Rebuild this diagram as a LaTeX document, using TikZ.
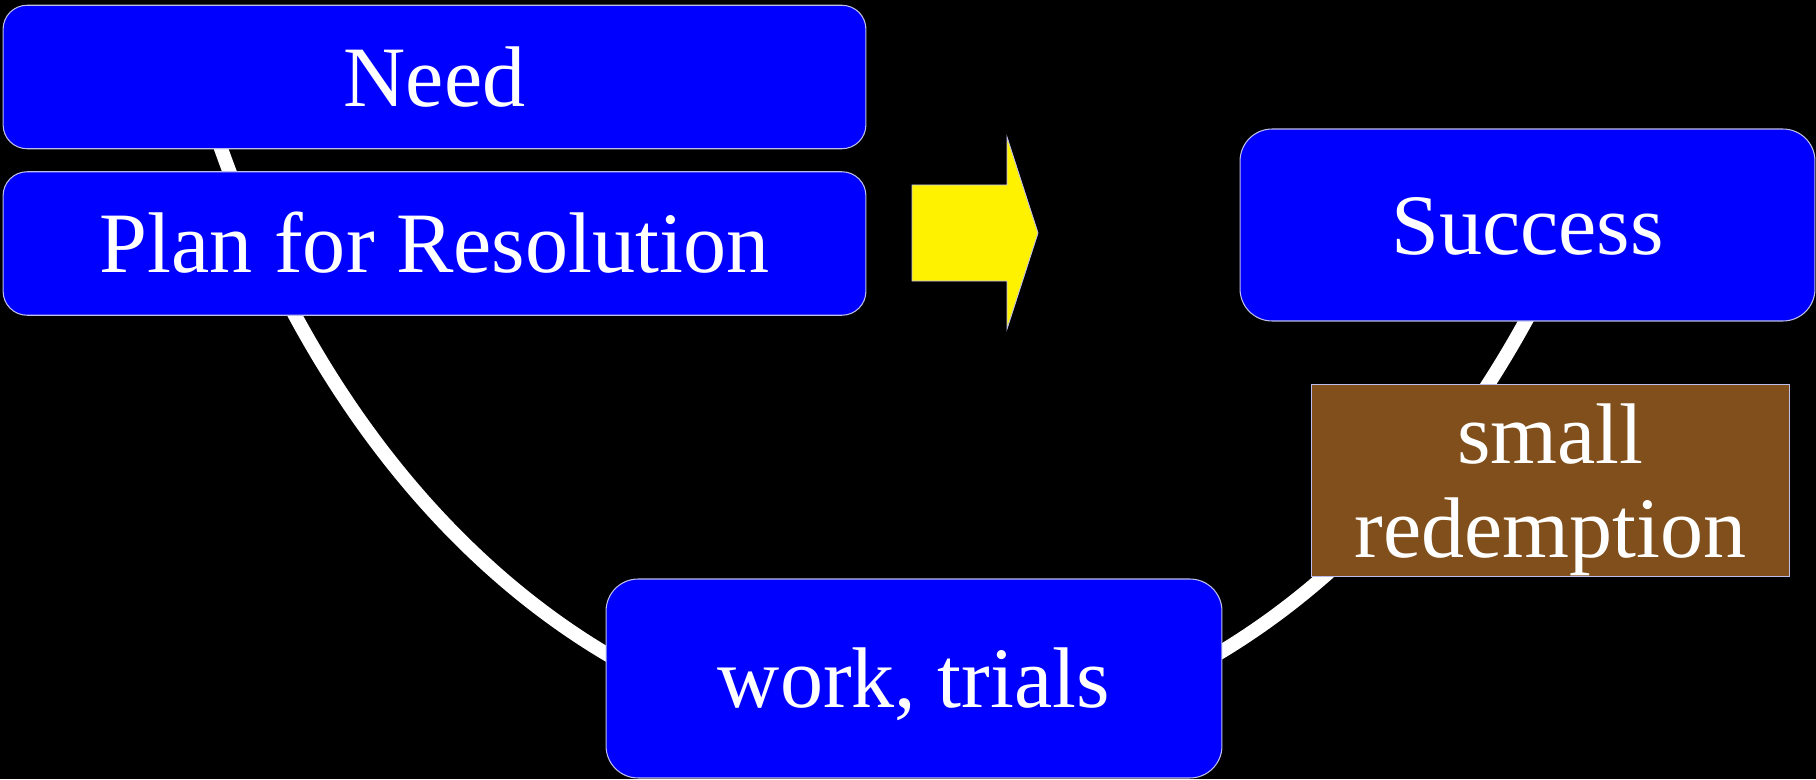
\documentclass[tikz,border=0pt]{standalone}
\usepackage{fontspec}
\setmainfont{Liberation Serif}
\definecolor{redeembrown}{RGB}{128,79,28}
\definecolor{edgegray}{RGB}{190,190,235}
\begin{document}
\begin{tikzpicture}[x=0.02cm, y=0.02cm]
    % Define styles
    \tikzset{
        stagebox/.style={draw=edgegray, line width=0.6pt, fill=blue, text=white, inner sep=0pt, font=\fontsize{49}{53.5}\selectfont, text height=43.7pt, text depth=10.6pt},
        smallstage/.style={stagebox, rounded corners=0.48cm, minimum width=17.26cm, minimum height=2.87cm},
        bigstage/.style={stagebox, rounded corners=0.64cm},
        redeembox/.style={draw=edgegray, line width=0.6pt, fill=redeembrown, text=white, inner sep=0pt, align=center, font=\fontsize{49}{53.5}\selectfont, minimum width=9.58cm, minimum height=3.82cm},
        pathline/.style={draw=white, line width=0.28cm},
        bigarrow/.style={fill=yellow, draw=edgegray, line width=0.5pt}
    }

    % Background and page size
    \useasboundingbox (0,0) rectangle (1816,779);
    \fill[black] (0,0) rectangle (1816,779);

    % The path of the story, behind the boxes
    \coordinate (arcstart) at (218,639);
    \draw[pathline] (arcstart) arc[start angle=205.66, end angle=324.3, x radius=770, y radius=1060];

    % Starting stages
    \node[smallstage] (need) at (434.5,702) {Need};
    \node[smallstage] (plan) at (434.5,535.5) {Plan for Resolution};

    % Arrow towards the goal
    \fill[bigarrow] (912,594) -- (1007,594) -- (1007,642) -- (1038,546) -- (1007,450) -- (1007,498) -- (912,498) -- cycle;

    % Goal
    \node[bigstage, minimum width=11.5cm, minimum height=3.84cm] (success) at (1527.5,554) {Success};

    % Low point
    \node[bigstage, minimum width=12.32cm, minimum height=3.98cm] (work) at (914,100.5) {work, trials};

    % Turning point
    \node[redeembox] (redemption) at (1550.5,298.5) {\rule{0pt}{45pt}small\\redemption};

\end{tikzpicture}
\end{document}
